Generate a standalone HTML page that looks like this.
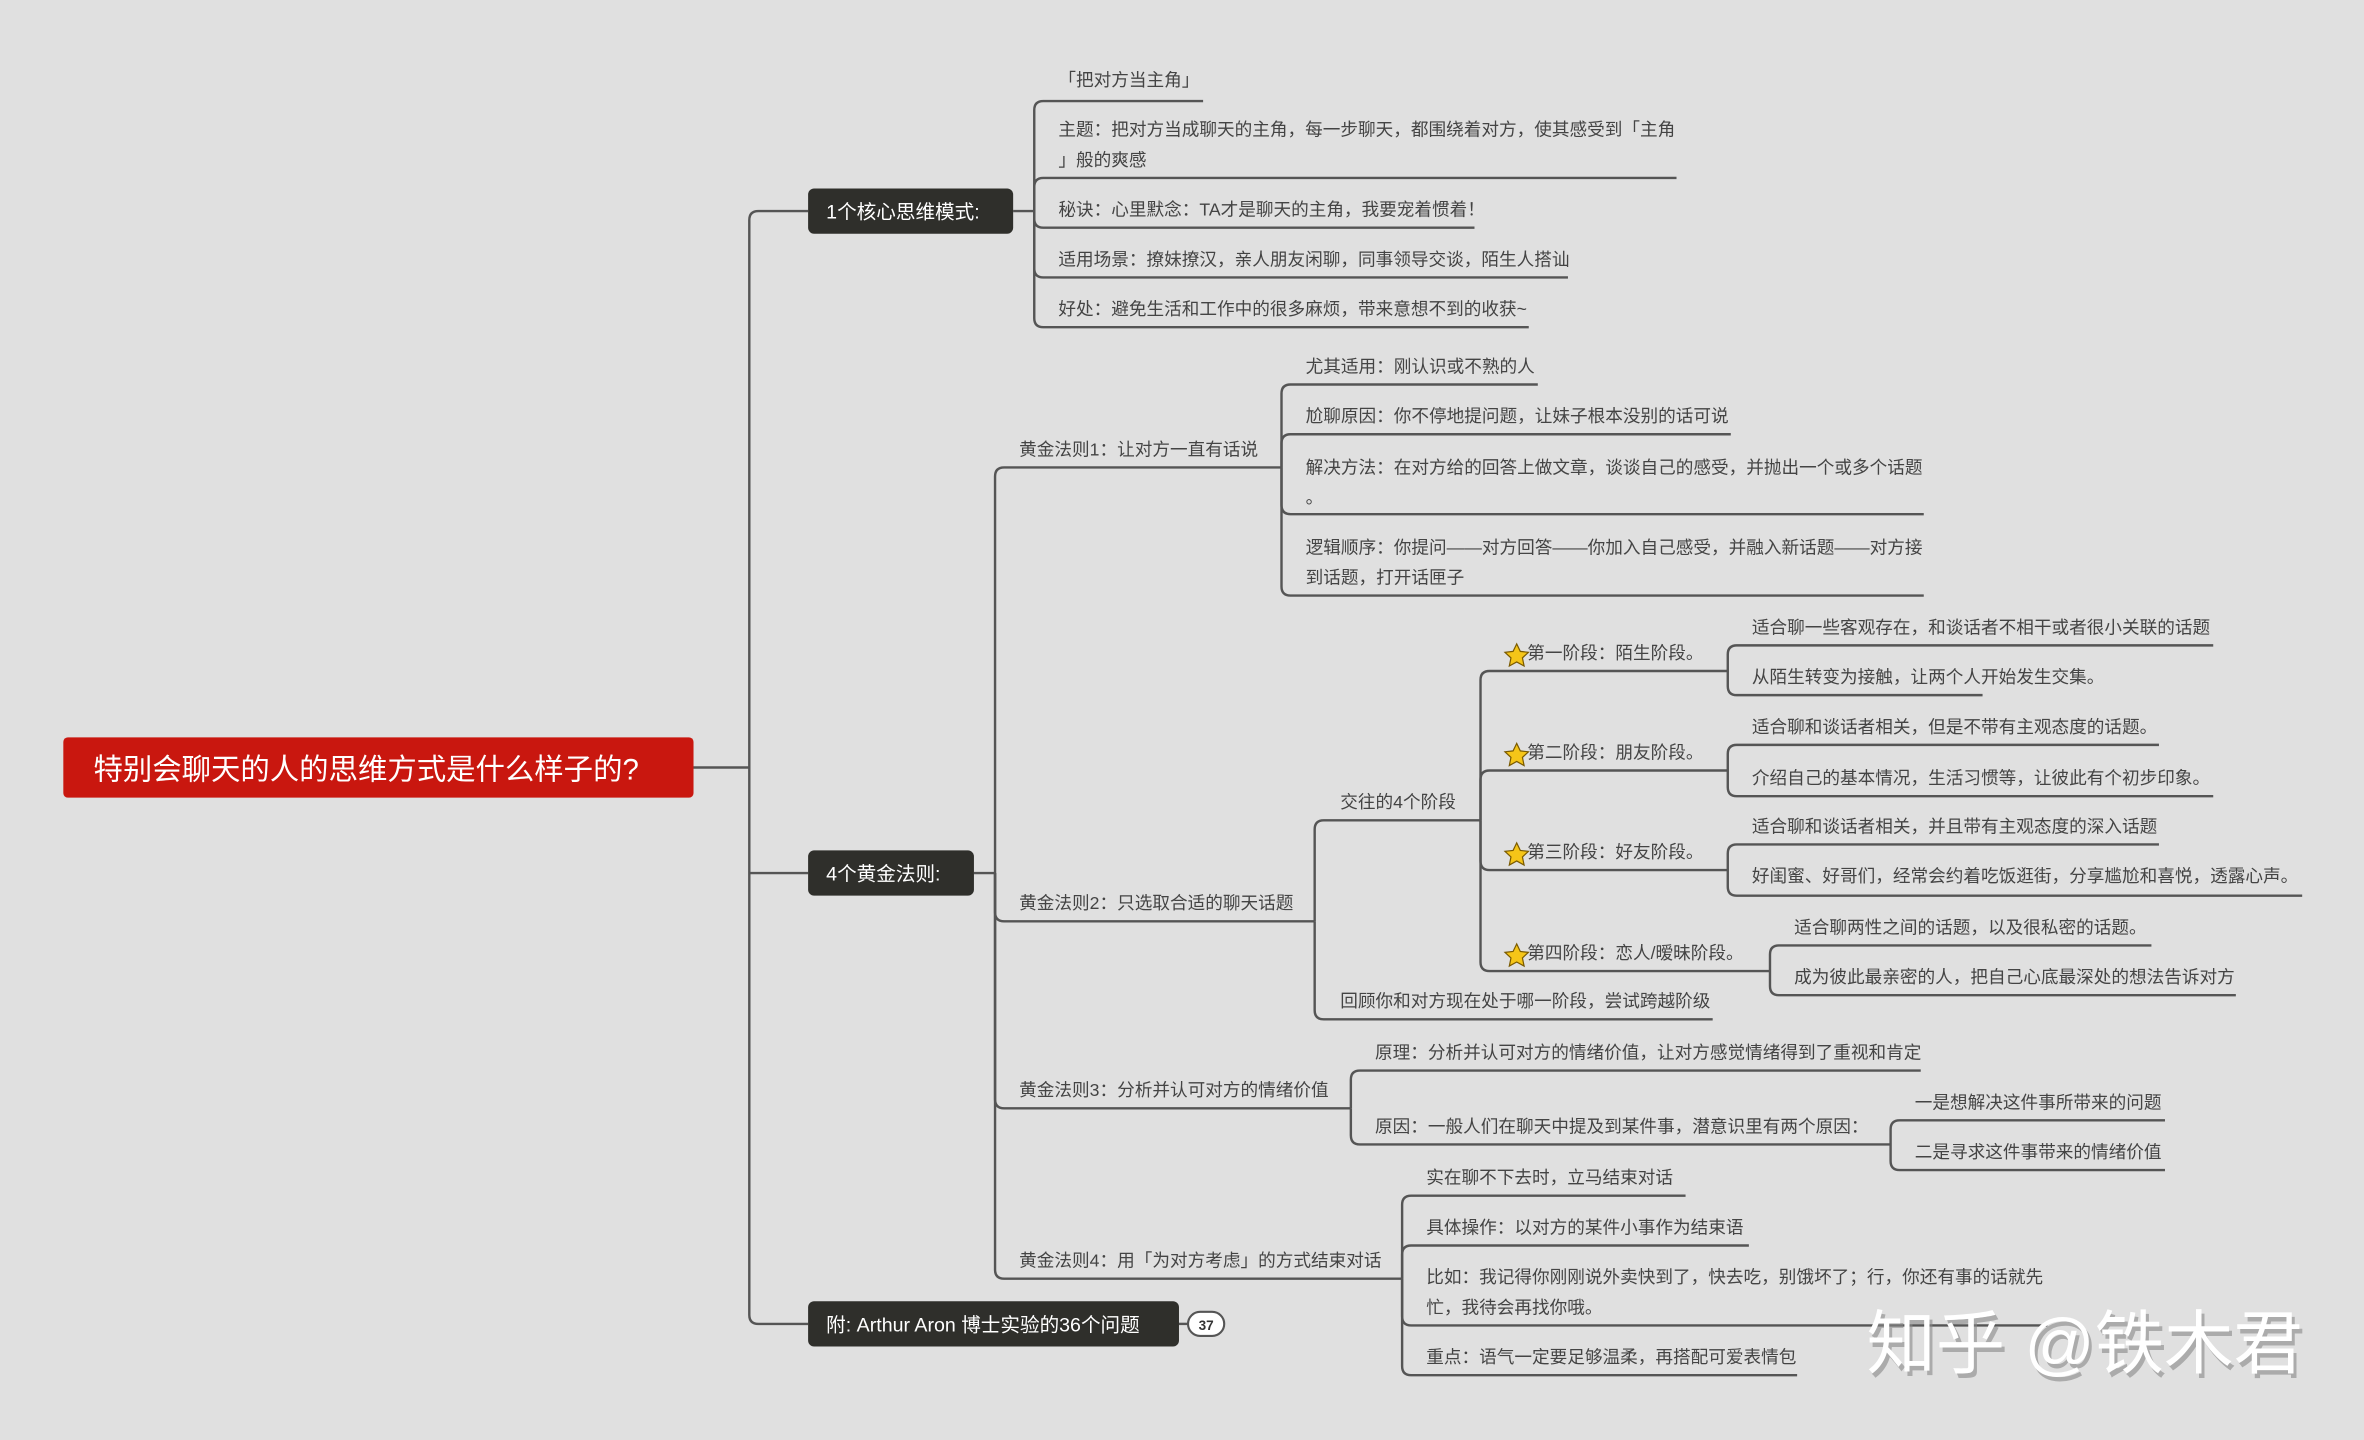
<!DOCTYPE html>
<html><head><meta charset="utf-8"><style>
html,body{margin:0;padding:0;background:#e0e0e0;}
svg{display:block;}
text{font-family:"Liberation Sans","Noto Sans CJK SC",sans-serif;}
.t{font-size:11.7px;fill:#444;}
.n{font-size:13px;fill:#fff;}
.l{fill:none;stroke:#555;stroke-width:1.6;}
</style></head><body>
<svg width="2364" height="1440" viewBox="0 0 1568 955" preserveAspectRatio="none" xmlns="http://www.w3.org/2000/svg">
<rect width="1568" height="955" fill="#e0e0e0"/>
<g class="l">
<path d="M460,509 H497"/>
<path d="M536,140 H503 Q497,140 497,146 V872 Q497,878 503,878 H536"/>
<path d="M497,579 H536"/>
<path d="M672,140 H686"/>
<path d="M686,140 V73 Q686,67 692,67 H798"/>
<path d="M686,140 V124 Q686,118 692,118 H1112"/>
<path d="M686,140 V145 Q686,151 692,151 H978"/>
<path d="M686,140 V178 Q686,184 692,184 H1040"/>
<path d="M686,140 V211 Q686,217 692,217 H1014"/>
<path d="M646,579 H660"/>
<path d="M660,579 V316 Q660,310 666,310 H850"/>
<path d="M660,579 V605 Q660,611 666,611 H872"/>
<path d="M660,579 V729 Q660,735 666,735 H896"/>
<path d="M660,579 V842 Q660,848 666,848 H930"/>
<path d="M850,310 V261 Q850,255 856,255 H1020"/>
<path d="M850,310 V294 Q850,288 856,288 H1148"/>
<path d="M850,310 V335 Q850,341 856,341 H1276"/>
<path d="M850,310 V389 Q850,395 856,395 H1276"/>
<path d="M872,611 V550 Q872,544 878,544 H982"/>
<path d="M872,611 V670 Q872,676 878,676 H1136"/>
<path d="M982,544 V451 Q982,445 988,445 H1146"/>
<path d="M982,544 V517 Q982,511 988,511 H1146"/>
<path d="M982,544 V571 Q982,577 988,577 H1146"/>
<path d="M982,544 V638 Q982,644 988,644 H1174"/>
<path d="M1146,445 V434 Q1146,428 1152,428 H1468"/>
<path d="M1146,445 V455 Q1146,461 1152,461 H1315"/>
<path d="M1146,511 V500 Q1146,494 1152,494 H1432"/>
<path d="M1146,511 V522 Q1146,528 1152,528 H1468"/>
<path d="M1146,577 V566 Q1146,560 1152,560 H1432"/>
<path d="M1146,577 V588 Q1146,594 1152,594 H1527"/>
<path d="M1174,644 V633 Q1174,627 1180,627 H1427"/>
<path d="M1174,644 V654 Q1174,660 1180,660 H1483"/>
<path d="M896,735 V716 Q896,710 902,710 H1274"/>
<path d="M896,735 V753 Q896,759 902,759 H1254"/>
<path d="M1254,759 V749 Q1254,743 1260,743 H1436"/>
<path d="M1254,759 V770 Q1254,776 1260,776 H1436"/>
<path d="M930,848 V799 Q930,793 936,793 H1118"/>
<path d="M930,848 V832 Q930,826 936,826 H1160"/>
<path d="M930,848 V873 Q930,879 936,879 H1358"/>
<path d="M930,848 V906 Q930,912 936,912 H1192"/>
</g>
<rect x="42" y="489" width="418" height="40" rx="3" fill="#c9170f"/>
<text x="62" y="517" style="font-size:19.5px;fill:#fff">特别会聊天的人的思维方式是什么样子的?</text>
<rect x="536" y="125" width="136" height="30" rx="4" fill="#2f2f2b"/>
<text class="n" x="548" y="145">1个核心思维模式:</text>
<rect x="536" y="564" width="110" height="30" rx="4" fill="#2f2f2b"/>
<text class="n" x="548" y="584">4个黄金法则:</text>
<rect x="536" y="863" width="246" height="30" rx="4" fill="#2f2f2b"/>
<text class="n" x="548" y="883">附:  Arthur Aron 博士实验的36个问题</text>
<path class="l" d="M782,878 H788"/>
<rect x="788" y="870" width="24" height="16" rx="8" fill="#fff" stroke="#555" stroke-width="1.4"/>
<text x="800" y="882" text-anchor="middle" style="font-size:9px;fill:#333;font-weight:bold">37</text>
<g class="t">
<text x="702" y="57">「把对方当主角」</text>
<text x="702" y="90">主题：把对方当成聊天的主角，每一步聊天，都围绕着对方，使其感受到「主角</text>
<text x="702" y="110">」般的爽感</text>
<text x="702" y="143">秘诀：心里默念：TA才是聊天的主角，我要宠着惯着！</text>
<text x="702" y="176">适用场景：撩妹撩汉，亲人朋友闲聊，同事领导交谈，陌生人搭讪</text>
<text x="702" y="209">好处：避免生活和工作中的很多麻烦，带来意想不到的收获~</text>
<text x="676" y="302">黄金法则1：让对方一直有话说</text>
<text x="676" y="603">黄金法则2：只选取合适的聊天话题</text>
<text x="676" y="727">黄金法则3：分析并认可对方的情绪价值</text>
<text x="676" y="840">黄金法则4：用「为对方考虑」的方式结束对话</text>
<text x="866" y="247">尤其适用：刚认识或不熟的人</text>
<text x="866" y="280">尬聊原因：你不停地提问题，让妹子根本没别的话可说</text>
<text x="866" y="314">解决方法：在对方给的回答上做文章，谈谈自己的感受，并抛出一个或多个话题</text>
<text x="866" y="334">。</text>
<text x="866" y="367">逻辑顺序：你提问——对方回答——你加入自己感受，并融入新话题——对方接</text>
<text x="866" y="387">到话题，打开话匣子</text>
<text x="889" y="536">交往的4个阶段</text>
<text x="889" y="668">回顾你和对方现在处于哪一阶段，尝试跨越阶级</text>
<text x="1013" y="437">第一阶段：陌生阶段。</text>
<text x="1013" y="503">第二阶段：朋友阶段。</text>
<text x="1013" y="569">第三阶段：好友阶段。</text>
<text x="1013" y="636">第四阶段：恋人/暧昧阶段。</text>
<text x="1162" y="420">适合聊一些客观存在，和谈话者不相干或者很小关联的话题</text>
<text x="1162" y="453">从陌生转变为接触，让两个人开始发生交集。</text>
<text x="1162" y="486">适合聊和谈话者相关，但是不带有主观态度的话题。</text>
<text x="1162" y="520">介绍自己的基本情况，生活习惯等，让彼此有个初步印象。</text>
<text x="1162" y="552">适合聊和谈话者相关，并且带有主观态度的深入话题</text>
<text x="1162" y="585">好闺蜜、好哥们，经常会约着吃饭逛街，分享尴尬和喜悦，透露心声。</text>
<text x="1190" y="619">适合聊两性之间的话题，以及很私密的话题。</text>
<text x="1190" y="652">成为彼此最亲密的人，把自己心底最深处的想法告诉对方</text>
<text x="912" y="702">原理：分析并认可对方的情绪价值，让对方感觉情绪得到了重视和肯定</text>
<text x="912" y="751">原因：一般人们在聊天中提及到某件事，潜意识里有两个原因：</text>
<text x="1270" y="735">一是想解决这件事所带来的问题</text>
<text x="1270" y="768">二是寻求这件事带来的情绪价值</text>
<text x="946" y="785">实在聊不下去时，立马结束对话</text>
<text x="946" y="818">具体操作：以对方的某件小事作为结束语</text>
<text x="946" y="851">比如：我记得你刚刚说外卖快到了，快去吃，别饿坏了；行，你还有事的话就先</text>
<text x="946" y="871">忙，我待会再找你哦。</text>
<text x="946" y="904">重点：语气一定要足够温柔，再搭配可爱表情包</text>
</g>
<g fill="#f5c518" stroke="#7a5a00" stroke-width="0.8">
<path d="M1006,427 l2.4,5 5.4,.6 -4,3.7 1.1,5.4 -4.9,-2.7 -4.9,2.7 1.1,-5.4 -4,-3.7 5.4,-.6z"/>
<path d="M1006,493 l2.4,5 5.4,.6 -4,3.7 1.1,5.4 -4.9,-2.7 -4.9,2.7 1.1,-5.4 -4,-3.7 5.4,-.6z"/>
<path d="M1006,559 l2.4,5 5.4,.6 -4,3.7 1.1,5.4 -4.9,-2.7 -4.9,2.7 1.1,-5.4 -4,-3.7 5.4,-.6z"/>
<path d="M1006,626 l2.4,5 5.4,.6 -4,3.7 1.1,5.4 -4.9,-2.7 -4.9,2.7 1.1,-5.4 -4,-3.7 5.4,-.6z"/>
</g>
<text x="1240" y="910" style="font-size:46px;fill:#888;opacity:0.6">知乎 @铁木君</text>
<text x="1238" y="907" style="font-size:46px;fill:#fff">知乎 @铁木君</text>
</svg>
</body></html>
